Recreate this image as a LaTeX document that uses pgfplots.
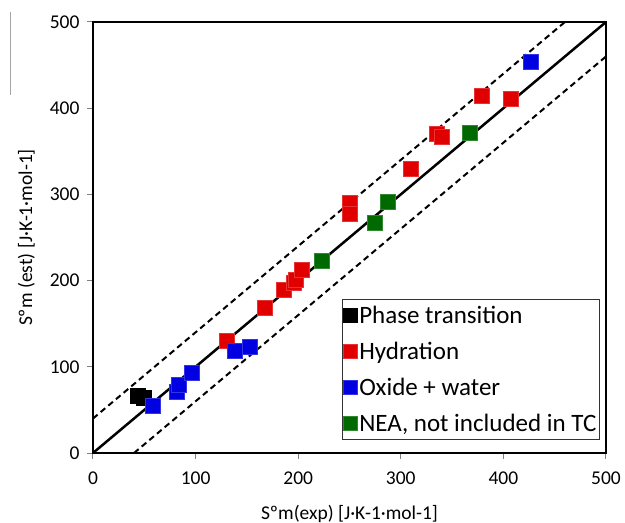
\documentclass[border=0pt]{standalone}
\usepackage{pgfplots}
\pgfplotsset{compat=1.18}
\usepackage{fontspec}
\setmainfont{Carlito}
\definecolor{cred}{RGB}{225,0,0}
\definecolor{cblue}{RGB}{0,0,225}
\definecolor{cgreen}{RGB}{0,105,0}
\definecolor{cblack}{RGB}{0,0,0}
\begin{document}
\begin{tikzpicture}
\useasboundingbox (-93pt,-70pt) rectangle (532pt,453pt);
\draw[gray!70, line width=0.7pt] (-83pt,441pt) -- (-83pt,358pt);
\begin{axis}[
  scale only axis,
  width=513pt, height=431pt,
  xmin=0, xmax=500, ymin=0, ymax=500,
  xtick={0,100,...,500}, ytick={0,100,...,500},
  axis line style={line width=2.5pt},
  tick style={gray, line width=1pt},
  tick align=outside,
  major tick length=6pt,
  xtick pos=bottom, ytick pos=left,
  /pgf/number format/assume math mode=true,
  tick label style={font=\fontsize{19.5}{22}\selectfont},
  xticklabel style={yshift=-9pt},
  yticklabel style={xshift=-4pt},
  xlabel={Sºm(exp) [J·K-1·mol-1]},
  ylabel={Sºm (est) [J·K-1·mol-1]},
  label style={font=\fontsize{19.5}{22}\selectfont},
  xlabel style={yshift=-14pt},
  ylabel style={yshift=8pt},
  clip=true,
  legend style={at={(0.988,0.03)}, anchor=south east, draw=black!80, line width=0.8pt,
    font=\fontsize{25}{28}\selectfont, row sep=13pt, inner xsep=1pt, inner ysep=5pt,
    /tikz/every even column/.append style={column sep=0pt}},
  legend cell align=left,
  legend image code/.code={\draw[#1, mark size=7pt] plot coordinates {(0pt,0pt)};},
]
\addplot[black, line width=2.5pt, forget plot] coordinates {(0,0) (500,500)};
\addplot[black, line width=2pt, dash pattern=on 6pt off 4pt, forget plot] coordinates {(0,40) (460,500)};
\addplot[black, line width=2pt, dash pattern=on 6pt off 4pt, forget plot] coordinates {(40,0) (500,460)};

\addplot[only marks, mark=square*, mark size=7.5pt, color=cblack, mark options={draw=cblack, fill=cblack}]
  coordinates {(44,66) (49,64)};
\addlegendentry{Phase transition}
\addplot[only marks, mark=square*, mark size=7.5pt, color=cred, mark options={draw=cred!80, fill=cred}]
  coordinates {(130,130) (167,168) (186,189) (196,197) (198,201) (203,213)
  (250,290) (250,278) (310,330) (335,370) (340,367) (379,415) (407,411)};
\addlegendentry{Hydration}
\addplot[only marks, mark=square*, mark size=7.5pt, color=cblue, mark options={draw=cblue!80, fill=cblue}]
  coordinates {(58,55) (82,71) (84,79) (96,93) (138,119) (153,123) (427,454)};
\addlegendentry{Oxide + water}
\addplot[only marks, mark=square*, mark size=7.5pt, color=cgreen, mark options={draw=cgreen!80, fill=cgreen}]
  coordinates {(223,223) (275,267) (287,291) (367,372)};
\addlegendentry{NEA, not included in TC}
\end{axis}
\end{tikzpicture}
\end{document}
